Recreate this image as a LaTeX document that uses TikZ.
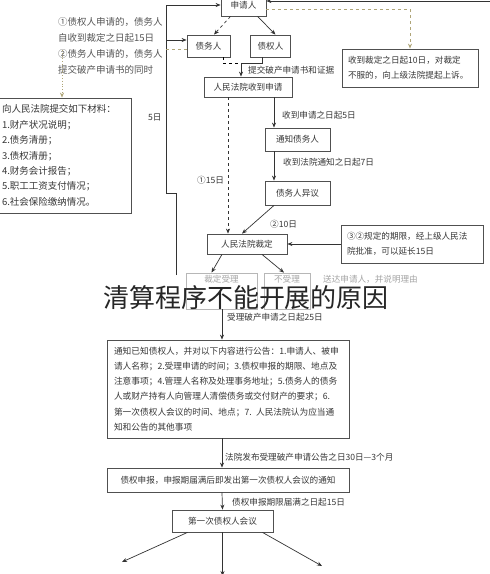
\documentclass[tikz,border=0pt]{standalone}
\usepackage{fontspec}
\setmainfont{Noto Sans CJK SC}
\usepackage{tikz}
\usetikzlibrary{arrows.meta}

\definecolor{boxline}{RGB}{80,80,80}
\definecolor{txt}{RGB}{55,55,55}
\definecolor{faint}{RGB}{165,165,165}
\definecolor{dashgold}{RGB}{175,165,120}

\tikzset{
  box/.style={draw=boxline, line width=0.8pt, fill=white, text=txt,
    font=\fontsize{8.6}{15}\selectfont, inner sep=0pt, minimum height=20pt},
  fbox/.style={box, draw=faint!80, text=faint},
  flow/.style={-{Stealth[length=5pt,width=4pt]}, line width=0.7pt, draw=black!80},
  gdash/.style={dashed, line width=0.8pt, draw=dashgold},
  lbl/.style={anchor=west, text=txt, font=\fontsize{8.6}{10}\selectfont, inner sep=0pt}
}

\begin{document}
\begin{tikzpicture}[x=1pt, y=-1pt]
  \useasboundingbox[fill=white] (0,0) rectangle (490,574);

  % upper part
  \node[box, minimum width=45pt, minimum height=22pt] (sqr) at (243.5,5) {申请人};
  \node[box, minimum width=43pt, minimum height=22pt] (zwr) at (208.5,46) {债务人};
  \node[box, minimum width=40pt, minimum height=22pt] (zqr) at (270.5,46) {债权人};
  \node[box, minimum width=88pt] (sd) at (248,87) {人民法院收到申请};
  \node[box, minimum width=136pt, minimum height=38pt, text width=124pt,
        inner xsep=6pt, align=left] (ss) at (410,68)
        {收到裁定之日起10日，对裁定\\不服的，向上级法院提起上诉。};
  \node[anchor=north west, align=left, text=txt!85, inner sep=0pt,
        font=\fontsize{9.5}{16}\selectfont] (zs) at (58,17)
        {①债权人申请的，债务人\\自收到裁定之日起15日\\②债务人申请的，债务人\\提交破产申请书的同时};
  \node[box, minimum width=132pt, minimum height=115pt, text width=126pt,
        inner xsep=3pt, align=left, font=\fontsize{9.5}{15.4}\selectfont] (cl) at (65,155.5)
        {向人民法院提交如下材料：\\1.财产状况说明；\\2.债务清册；\\3.债权清册；\\4.财务会计报告；\\5.职工工资支付情况；\\6.社会保险缴纳情况。};

  % middle part
  \node[box, minimum width=65pt, minimum height=23pt] (tz) at (297.5,139.5) {通知债务人};
  \node[box, minimum width=65pt, minimum height=24pt] (yy) at (297.5,193) {债务人异议};
  \node[box, minimum width=80pt] (cd) at (247,244) {人民法院裁定};
  \node[box, minimum width=142pt, minimum height=38pt, text width=130pt,
        inner xsep=6pt, align=left] (yc) at (412,244)
        {③②规定的期限，经上级人民法\\院批准，可以延长15日};
  \node[fbox, minimum width=71pt, minimum height=36pt] (sl) at (221.5,291) {};
  \node[fbox, minimum width=46pt, minimum height=36pt] (bsl) at (287,291) {};
  \node[lbl, anchor=center, text=faint] (tsl) at (221.5,279) {裁定受理};
  \node[lbl, anchor=center, text=faint] (tbsl) at (287,279) {不受理};
  \node[lbl, text=faint] (ly) at (323,279) {送达申请人，并说明理由};

  % lower part
  \node[box, minimum width=242pt, minimum height=98pt, text width=228pt,
        inner xsep=7pt, align=left, font=\fontsize{8.7}{15.3}\selectfont] (gg) at (228,389)
        {通知已知债权人，并对以下内容进行公告：1.申请人、被申\\请人名称；2.受理申请的时间；3.债权申报的期限、地点及\\注意事项；4.管理人名称及处理事务地址；5.债务人的债务\\人或财产持有人向管理人清偿债务或交付财产的要求；6.\\第一次债权人会议的时间、地点；7. 人民法院认为应当通\\知和公告的其他事项};
  \node[box, minimum width=242pt, minimum height=24pt] (sb) at (228,480)
        {债权申报，申报期届满后即发出第一次债权人会议的通知};
  \node[box, minimum width=101pt, minimum height=22pt] (hy) at (222.5,521) {第一次债权人会议};

  % overlay title
  \node[font=\fontsize{26}{26}\selectfont, text=black!85, inner sep=0pt] (bt) at (246,298)
        {清算程序不能开展的原因};

  % connectors
  \coordinate (lb) at (176,275);
  \coordinate (tr) at (490,1);
  \coordinate (j) at (241,63);
  \coordinate (zd) at (62,50);
  \coordinate (zl) at (163,49);
  \coordinate (dl) at (122,562);
  \coordinate (dm) at (222.5,576);
  \coordinate (dr) at (322,566);

  \draw[flow] (lb) -- (176,193) -- (166,193) -- (166,5) -- (sqr.west);
  \draw[flow] (166,40) -- (zwr.west |- 0,40);
  \node[lbl] (l5) at (148,117) {5日};
  \draw[flow] (tr) -- (sqr.east |- tr);

  \draw[flow, dashed] ([xshift=-13pt]sqr.south) -- ([xshift=5.5pt]zwr.north);
  \draw[flow] ([xshift=14pt]sqr.south) -- ([xshift=5pt]zqr.north);
  \draw[gdash, -{Stealth[length=5pt,width=4pt]}] ([yshift=-4pt]sqr.east) -| (ss.north);
  \draw[gdash] ([yshift=-3pt]zwr.west) -- (zl);
  \draw[gdash, dotted, -{Stealth[length=5pt,width=4pt]}] (zd) -- (zd |- cl.north);

  \draw[dashed, line width=0.8pt] ([xshift=14.5pt]zwr.south) |- (j);
  \draw[flow] ([xshift=-8pt]zqr.south) |- (j) -- (j |- sd.north);
  \node[lbl] (l1) at (248,70) {提交破产申请书和证据};

  \draw[flow, dashed] ([xshift=-20pt]sd.south) -- ([xshift=-19pt]cd.north);
  \node[lbl] (l2) at (197,180) {①15日};
  \draw[flow] ([xshift=26pt]sd.south) -- ([xshift=-23.5pt]tz.north);
  \node[lbl] (l3) at (282,115) {收到申请之日起5日};
  \draw[flow] ([xshift=-23.5pt]tz.south) -- ([xshift=-23.5pt]yy.north);
  \node[lbl] (l4) at (283,162) {收到法院通知之日起7日};
  \draw[flow] ([xshift=-23.5pt]yy.south) -- ([xshift=-5pt]cd.north);
  \node[lbl] (l6) at (270,224) {②10日};
  \draw[flow] (yc.west) -- (cd.east);

  \draw[flow] ([xshift=-25pt]cd.south) -- ([xshift=-10pt]sl.north);
  \draw[flow] ([xshift=15pt]cd.south) -- ([xshift=-3pt]bsl.north);
  \draw[flow] ([xshift=0.5pt]sl.south) -- ([xshift=-6pt]gg.north);
  \node[lbl] (l7) at (227,317) {受理破产申请之日起25日};
  \draw[flow] ([xshift=-6pt]gg.south) -- ([xshift=-6pt]sb.north);
  \node[lbl] (l8) at (225,457) {法院发布受理破产申请公告之日30日—3个月};
  \draw[flow] ([xshift=-6pt]sb.south) -- (hy.north);
  \node[lbl] (l9) at (232,502) {债权申报期限届满之日起15日};

  \draw[flow] ([xshift=-35pt]hy.south) -- (dl);
  \draw[flow] (hy.south) -- (dm);
  \draw[flow] ([xshift=40pt]hy.south) -- (dr);
\end{tikzpicture}
\end{document}
